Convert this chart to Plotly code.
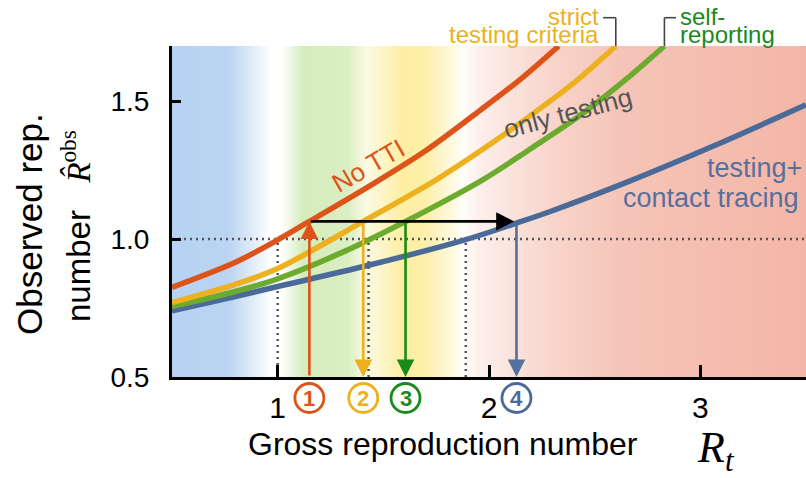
import plotly.graph_objects as go

# ---------------- data ----------------
x_range = [0.5, 3.5]
y_range = [0.5, 1.7]
x_ticks = [1, 2, 3]
x_ticktext = ["1", "2", "3"]
y_ticks = [0.5, 1.0, 1.5]
y_ticktext = ["0.5", "1.0", "1.5"]

no_tti_x = [0.5, 0.8, 1.0, 1.15, 1.44, 1.7, 1.96, 2.15, 2.33]
no_tti_y = [0.825, 0.916, 0.997, 1.064, 1.195, 1.32, 1.468, 1.58, 1.70]

strict_x = [0.5, 0.8, 1.0, 1.405, 1.75, 1.96, 2.19, 2.4, 2.6]
strict_y = [0.770, 0.836, 0.893, 1.064, 1.215, 1.32, 1.444, 1.565, 1.70]

self_rep_x = [0.5, 0.8, 1.0, 1.3, 1.605, 1.97, 2.19, 2.43, 2.665, 2.83]
self_rep_y = [0.756, 0.81, 0.856, 0.95, 1.064, 1.215, 1.324, 1.448, 1.59, 1.70]

contact_x = [0.5, 0.8, 1.0, 1.43, 1.89, 2.13, 2.29, 2.665, 3.07, 3.5]
contact_y = [0.740, 0.792, 0.828, 0.905, 0.998, 1.058, 1.10, 1.21, 1.34, 1.487]

threshold_y = 1.0
observed_target = 1.064            # horizontal arrow level
scenario_x = [1.15, 1.405, 1.605, 2.13]   # circled 1..4
scenario_labels = ["1", "2", "3", "4"]
scenario_start_y = [0.5, 1.064, 1.064, 1.058]
crossing_x = [1.0, 1.43, 1.89]     # dotted verticals

# background colour stops (x position, rgb)
bg_x = [0.5, 0.77, 0.97, 1.02, 1.12, 1.33, 1.42, 1.6, 1.71, 1.88, 1.96, 2.31, 2.63, 3.5]
bg_rgb = [(183, 210, 242), (187, 212, 242), (255, 255, 255), (255, 255, 255),
          (214, 236, 188), (218, 238, 194), (252, 250, 226), (253, 238, 160),
          (253, 240, 172), (255, 253, 250), (252, 238, 234), (248, 212, 202),
          (246, 196, 184), (243, 182, 166)]

RED = "#DC5419"
YEL = "#EDB120"
GRN = "#6CAB2E"
GRN_DARK = "#1A8A1A"
BLU = "#4A6A9A"
BLU_TXT = "#56709E"
FONT = "Liberation Sans, Arial, sans-serif"
SERIF = "Liberation Serif, DejaVu Serif, serif"

fig = go.Figure()

# ---------------- background gradient ----------------
def interp_color(x):
    for i in range(len(bg_x) - 1):
        if bg_x[i] <= x <= bg_x[i + 1]:
            t = (x - bg_x[i]) / (bg_x[i + 1] - bg_x[i])
            c = [round(bg_rgb[i][k] + t * (bg_rgb[i + 1][k] - bg_rgb[i][k])) for k in range(3)]
            return "rgb(%d,%d,%d)" % tuple(c)
    return "rgb(%d,%d,%d)" % bg_rgb[-1]

n = 300
step = (x_range[1] - x_range[0]) / n
shapes = []
for i in range(n):
    x0 = x_range[0] + i * step
    shapes.append(dict(type="rect", xref="x", yref="y", x0=x0, x1=min(x0 + step * 1.6, x_range[1]),
                       y0=y_range[0], y1=y_range[1], fillcolor=interp_color(x0 + step / 2),
                       line=dict(width=0), layer="below"))

# ---------------- dotted guide lines ----------------
fig.add_trace(go.Scatter(x=x_range, y=[threshold_y, threshold_y], mode="lines",
                         line=dict(color="#555555", width=2.5, dash="2px,4px"),
                         hoverinfo="skip"))
for cx in crossing_x:
    fig.add_trace(go.Scatter(x=[cx, cx], y=[y_range[0], threshold_y], mode="lines",
                             line=dict(color="#555555", width=2.5, dash="2px,4px"),
                             hoverinfo="skip"))

# ---------------- curves ----------------
for xs, ys, col in [(contact_x, contact_y, BLU), (self_rep_x, self_rep_y, GRN),
                    (strict_x, strict_y, YEL), (no_tti_x, no_tti_y, RED)]:
    fig.add_trace(go.Scatter(x=xs, y=ys, mode="lines",
                             line=dict(color=col, width=5.5, shape="spline", smoothing=0.9),
                             hoverinfo="skip"))


def px_x(p):
    return (p - 172) / 634.0


def px_y(p):
    return (377 - p) / 331.0


# ---------------- arrows ----------------
annotations = []
arrow_cols = [RED, YEL, GRN_DARK, "#52719F"]
for i, (sx, sy, col) in enumerate(zip(scenario_x, scenario_start_y, arrow_cols)):
    if i == 0:
        head, tail = observed_target, sy
    else:
        head, tail = y_range[0], sy
    annotations.append(dict(x=sx, y=head, ax=sx, ay=tail, xref="x", yref="y",
                            axref="x", ayref="y", text="", showarrow=True,
                            arrowhead=2, arrowsize=1.35, arrowwidth=2.6, arrowcolor=col,
                            standoff=0, startstandoff=0))
annotations.append(dict(x=scenario_x[3] - 0.01, y=observed_target, ax=scenario_x[0],
                        ay=observed_target, xref="x", yref="y", axref="x", ayref="y",
                        text="", showarrow=True, arrowhead=2, arrowsize=1.3,
                        arrowwidth=2.8, arrowcolor="black", standoff=0))

# circled scenario numbers below the axis
circ_cols = [RED, YEL, GRN_DARK, BLU]
circ_y = px_y(398)
for sx, lab, col in zip(scenario_x, scenario_labels, circ_cols):
    shapes.append(dict(type="circle", xref="x", yref="paper", xsizemode="pixel",
                       ysizemode="pixel", xanchor=sx, yanchor=circ_y,
                       x0=-14.5, x1=14.5, y0=-14.5, y1=14.5,
                       line=dict(color=col, width=2.8), fillcolor="rgba(0,0,0,0)"))
    annotations.append(dict(text="<b>%s</b>" % lab, x=sx, y=circ_y, xref="x", yref="paper",
                            xanchor="center", yanchor="middle", showarrow=False,
                            font=dict(family=FONT, size=22, color=col)))


def label(text, x, y, size, color, angle=0, xa="center", ya="middle", family=FONT):
    return dict(text=text, x=x, y=y, xref="paper", yref="paper", xanchor=xa, yanchor=ya,
                showarrow=False, textangle=angle, font=dict(family=family, size=size, color=color))


# curve labels
annotations += [
    label("No TTI", px_x(368), px_y(166), 26, RED, angle=-30),
    label("only testing", px_x(568), px_y(113), 26, "#555555", angle=-15),
    label("testing+", px_x(804), px_y(168), 27, BLU_TXT, xa="right"),
    label("contact tracing", px_x(801), px_y(198), 27, BLU_TXT, xa="right"),
    label("strict", px_x(601), px_y(17), 24, YEL, xa="right"),
    label("testing criteria", px_x(601), px_y(34), 24, YEL, xa="right"),
    label("self-", px_x(678), px_y(17), 24, GRN_DARK, xa="left"),
    label("reporting", px_x(678), px_y(34), 24, GRN_DARK, xa="left"),
]

# bracket leaders to the curve ends
top_p = px_y(17.7)
shapes += [
    dict(type="line", xref="x", yref="paper", x0=strict_x[-1], x1=strict_x[-1], y0=1.0, y1=top_p,
         line=dict(color="#444444", width=1.6)),
    dict(type="line", xref="x", yref="paper", x0=strict_x[-1] - 0.06, x1=strict_x[-1], y0=top_p, y1=top_p,
         line=dict(color="#444444", width=1.6)),
    dict(type="line", xref="x", yref="paper", x0=self_rep_x[-1], x1=self_rep_x[-1], y0=1.0, y1=top_p,
         line=dict(color="#444444", width=1.6)),
    dict(type="line", xref="x", yref="paper", x0=self_rep_x[-1], x1=self_rep_x[-1] + 0.055, y0=top_p, y1=top_p,
         line=dict(color="#444444", width=1.6)),
]

# axis titles
annotations += [
    label("Gross reproduction number", px_x(443), px_y(444), 32, "black"),
    label("<i>R</i><sub><i>t</i></sub>", px_x(695), px_y(450), 44, "black", xa="left", family=SERIF),
    label("Observed rep.", px_x(29), px_y(224), 35, "black", angle=-90),
    label('number &nbsp;&nbsp;<span style="font-family:Liberation Serif"><i>R\u0302</i><sup>obs</sup></span>',
          px_x(76), px_y(226), 33, "black", angle=-90),
]

fig.update_layout(
    width=806, height=478,
    margin=dict(l=172, r=0, t=46, b=101),
    paper_bgcolor="white", plot_bgcolor="white",
    showlegend=False,
    shapes=shapes,
    annotations=annotations,
    xaxis=dict(range=x_range, tickvals=x_ticks, ticktext=x_ticktext, ticks="inside",
               ticklen=12, tickwidth=2.5, tickcolor="black", showline=True, linewidth=3,
               linecolor="black", showgrid=False, zeroline=False, ticklabelstandoff=2,
               tickfont=dict(family=FONT, size=30, color="black")),
    yaxis=dict(range=y_range, tickvals=y_ticks, ticktext=y_ticktext, ticks="inside",
               ticklen=9, tickwidth=2.5, tickcolor="black", showline=True, linewidth=3,
               linecolor="black", showgrid=False, zeroline=False, ticklabelstandoff=14,
               tickfont=dict(family=FONT, size=28, color="black")),
)

fig.write_html("out.html", config={"displayModeBar": False},
               post_script="document.body.style.margin='0px';")
